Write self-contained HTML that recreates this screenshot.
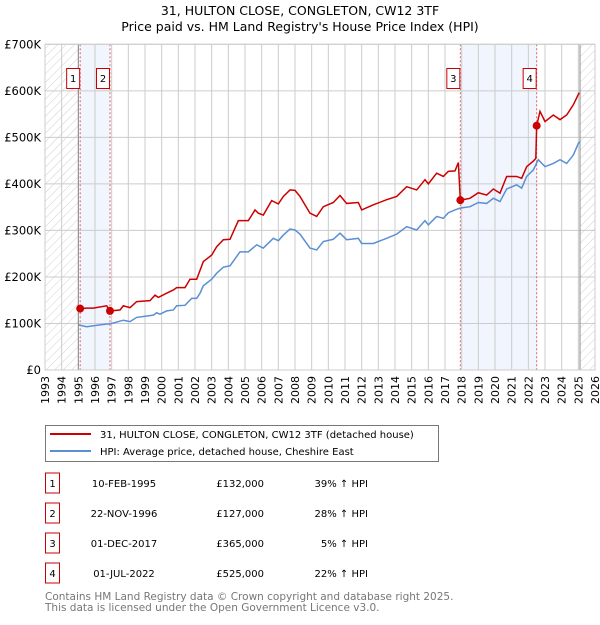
<!DOCTYPE html>
<html><head><meta charset="utf-8">
<style>
body{margin:0;background:#fff;font-family:"Liberation Sans","DejaVu Sans",sans-serif;}
svg text{font-family:"DejaVu Sans","Liberation Sans",sans-serif;}
</style></head>
<body>
<svg id="chart" width="600" height="620" xmlns="http://www.w3.org/2000/svg">
<defs>
<pattern id="hatch" width="6" height="6" patternUnits="userSpaceOnUse" patternTransform="rotate(45)">
<line x1="0" y1="0" x2="0" y2="6" stroke="#bbb" stroke-width="0.7"/>
</pattern>
</defs>
<text x="300" y="15" text-anchor="middle" font-size="12.5">31, HULTON CLOSE, CONGLETON, CW12 3TF</text>
<text x="300" y="31" text-anchor="middle" font-size="12.5">Price paid vs. HM Land Registry's House Price Index (HPI)</text>
<g id="plot"></g>
<g>
<rect x="45.5" y="425.5" width="393" height="36" fill="#fff" stroke="#777"/>
<line x1="50" y1="434" x2="91" y2="434" stroke="#cc0000" stroke-width="2"/>
<text x="100" y="438" font-size="10">31, HULTON CLOSE, CONGLETON, CW12 3TF (detached house)</text>
<line x1="50" y1="451" x2="91" y2="451" stroke="#5b8fd4" stroke-width="2"/>
<text x="100" y="455" font-size="10">HPI: Average price, detached house, Cheshire East</text>
</g>
<g id="table" font-size="10"></g>
<text x="45" y="600" font-size="10.5" fill="#777">Contains HM Land Registry data © Crown copyright and database right 2025.</text>
<text x="45" y="611" font-size="10.5" fill="#777">This data is licensed under the Open Government Licence v3.0.</text>
</svg>
<script>
const yTicks=[0,100,200,300,400,500,600,700];
const yTickLabels=["£0","£100K","£200K","£300K","£400K","£500K","£600K","£700K"];
const years=[1993,1994,1995,1996,1997,1998,1999,2000,2001,2002,2003,2004,2005,2006,2007,2008,2009,2010,2011,2012,2013,2014,2015,2016,2017,2018,2019,2020,2021,2022,2023,2024,2025,2026];
const hpiYears=[1995.0,1995.5,1996.3,1997.0,1997.7,1998.1,1998.5,1999.5,1999.7,1999.9,2000.3,2000.7,2000.9,2001.4,2001.8,2002.1,2002.3,2002.5,2003.0,2003.3,2003.7,2004.1,2004.7,2005.2,2005.7,2006.1,2006.7,2007.0,2007.3,2007.7,2008.0,2008.3,2008.9,2009.3,2009.7,2010.3,2010.7,2011.1,2011.8,2012.0,2012.7,2013.5,2014.1,2014.7,2015.3,2015.8,2016.0,2016.5,2016.9,2017.2,2017.6,2017.9,2018.5,2019.0,2019.5,2019.9,2020.3,2020.7,2021.3,2021.6,2021.9,2022.3,2022.6,2023.0,2023.5,2023.9,2024.3,2024.7,2025.0,2025.1];
const hpiValues=[97,93,97,100,107,104,113,118,123,120,127,129,138,139,154,154,165,181,195,208,221,224,254,254,269,262,283,278,290,303,301,292,262,258,276,281,294,280,283,272,272,283,292,308,301,321,312,330,326,338,344,348,351,360,358,369,362,389,398,391,416,430,452,437,444,452,444,462,487,491];
const priceYears=[1995.1,1995.5,1995.9,1996.7,1996.9,1997.5,1997.7,1998.1,1998.5,1999.3,1999.6,1999.8,2000.3,2000.7,2000.9,2001.4,2001.7,2002.1,2002.5,2003.0,2003.3,2003.7,2004.1,2004.6,2005.2,2005.6,2005.8,2006.1,2006.6,2007.0,2007.3,2007.7,2008.0,2008.3,2008.9,2009.3,2009.7,2010.3,2010.7,2011.1,2011.8,2012.0,2012.7,2013.5,2014.1,2014.7,2015.3,2015.8,2016.0,2016.5,2016.9,2017.2,2017.6,2017.8,2017.92,2018.5,2019.0,2019.5,2019.9,2020.3,2020.7,2021.3,2021.6,2021.9,2022.3,2022.45,2022.5,2022.7,2023.0,2023.5,2023.9,2024.3,2024.7,2025.05];
const priceValues=[132,133,133,138,127,129,138,134,147,149,161,156,165,172,177,177,195,195,233,247,265,280,281,321,321,344,337,333,364,357,373,387,386,373,337,330,351,360,375,358,360,344,355,366,373,394,387,409,400,423,416,427,428,446,365,369,381,376,389,380,416,416,412,437,449,455,525,556,534,548,538,548,570,596];
const saleLabels=["1","2","3","4"];
const saleYears=[1995.11,1996.9,2017.92,2022.5];
const saleValues=[132,127,365,525];
const saleDates=["10-FEB-1995","22-NOV-1996","01-DEC-2017","01-JUL-2022"];
const salePrices=["£132,000","£127,000","£365,000","£525,000"];
const saleHpi=["39% ↑ HPI","28% ↑ HPI","5% ↑ HPI","22% ↑ HPI"];

const X0=45,X1=595,Y0=370,Y1=44.3;
const xs=y=>X0+(y-1993)/(2026-1993)*(X1-X0);
const ys=v=>Y0-v/700*(Y0-Y1);
const NS="http://www.w3.org/2000/svg";
const plot=document.getElementById('plot');
function mk(tag,attrs,parent){const e=document.createElementNS(NS,tag);for(const k in attrs)e.setAttribute(k,attrs[k]);(parent||plot).appendChild(e);return e;}

let r;
r=mk('rect',{x:X0,y:Y1,width:xs(1995)-X0,height:Y0-Y1,fill:'url(#hatch)'});


r=mk('rect',{x:xs(2025.1),y:Y1,width:X1-xs(2025.1),height:Y0-Y1,fill:'url(#hatch)'});


r=mk('rect',{x:xs(saleYears[0]),y:Y1,width:xs(saleYears[1])-xs(saleYears[0]),height:Y0-Y1,fill:'#eef3fc',opacity:0.8});


r=mk('rect',{x:xs(saleYears[2]),y:Y1,width:xs(saleYears[3])-xs(saleYears[2]),height:Y0-Y1,fill:'#eef3fc',opacity:0.8});



years.forEach(y=>{
 const g=mk('line',{x1:xs(y),x2:xs(y),y1:Y1,y2:Y0,stroke:'#ccc','stroke-width':1});
 
 
 const tx=xs(y)+4, ty=Y0+6;
 const grp=mk('g',{transform:'rotate(-90 '+tx+' '+ty+')'});
 const t=mk('text',{x:tx,y:ty,'font-size':11,'text-anchor':'end'},grp);
 t.textContent=y;
 
 
});
yTicks.forEach((v,i)=>{
 const g=mk('line',{x1:X0,x2:X1,y1:ys(v),y2:ys(v),stroke:'#ccc','stroke-width':1});
 
 
 const t=mk('text',{x:X0-4,y:ys(v)+4,'font-size':11.5,'text-anchor':'end'});
 t.textContent=yTickLabels[i];
 
 
});
r=mk('line',{x1:xs(1995),x2:xs(1995),y1:Y1,y2:Y0,stroke:'#888','stroke-width':1});


r=mk('line',{x1:xs(2025.1),x2:xs(2025.1),y1:Y1,y2:Y0,stroke:'#888','stroke-width':1});



saleYears.forEach((y,i)=>{
 const l=mk('line',{x1:xs(y),x2:xs(y),y1:Y1,y2:Y0,stroke:'#e06060','stroke-width':1,'stroke-dasharray':'2,2'});
 
 
 const b=mk('rect',{x:xs(y)-13.5,y:68.5,width:13,height:20,fill:'#fff',stroke:'#cc0000'});
 
 
 const t=mk('text',{x:xs(y)-7,y:82,'font-size':10,'text-anchor':'middle'});
 t.textContent=saleLabels[i];
 
 
});

const hp=mk('polyline',{points:hpiYears.map((y,i)=>xs(y)+','+ys(hpiValues[i])).join(' '),fill:'none',stroke:'#5b8fd4','stroke-width':1.5});


const pp=mk('polyline',{points:priceYears.map((y,i)=>xs(y)+','+ys(priceValues[i])).join(' '),fill:'none',stroke:'#cc0000','stroke-width':1.5});


saleYears.forEach((y,i)=>{
 const c=mk('circle',{cx:xs(y),cy:ys(saleValues[i]),r:4,fill:'#cc0000'});
 
 
});
r=mk('rect',{x:X0,y:Y1,width:X1-X0,height:Y0-Y1,fill:'none',stroke:'#ccc'});



const tb=document.getElementById('table');
saleLabels.forEach((s,i)=>{
 const cy=483+i*30;
 const b=mk('rect',{x:45.5,y:cy-10,width:14,height:20,fill:'#fff',stroke:'#cc0000'},tb);
 
 
 const n=mk('text',{x:52.5,y:cy+4,'text-anchor':'middle'},tb);n.textContent=s;
 
 
 const d=mk('text',{x:124,y:cy+4,'text-anchor':'middle'},tb);d.textContent=saleDates[i];
 
 
 const p=mk('text',{x:264,y:cy+4,'text-anchor':'end'},tb);p.textContent=salePrices[i];
 
 
 const h=mk('text',{x:368,y:cy+4,'text-anchor':'end'},tb);h.textContent=saleHpi[i];
 
 
});
</script>
</body></html>
